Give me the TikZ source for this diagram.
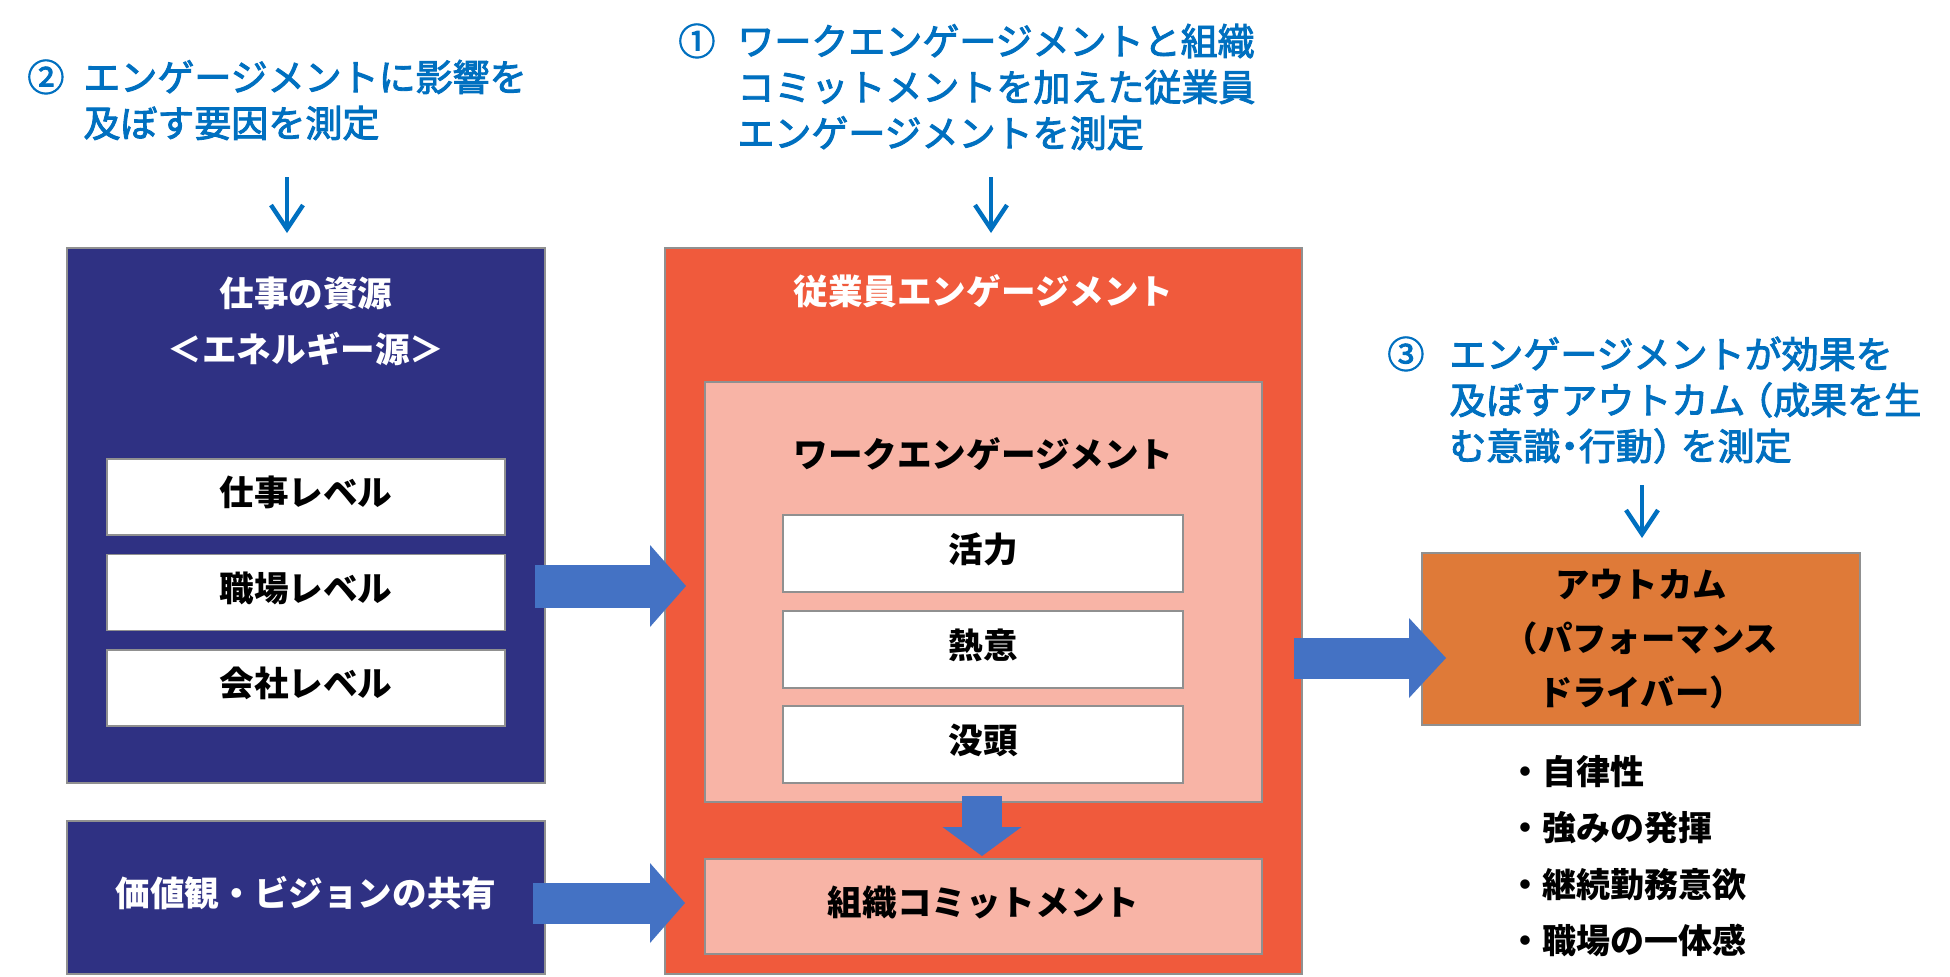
\documentclass[tikz,border=0pt]{standalone}
\usepackage{fontspec}
\setmainfont{Noto Sans CJK JP}
\newfontfamily\bluefont[FakeBold=2.5]{Noto Sans CJK JP}
\usetikzlibrary{arrows.meta}
\definecolor{navy}{HTML}{2F3183}
\definecolor{engorange}{HTML}{F05A3C}
\definecolor{salmon}{HTML}{F8B4A6}
\definecolor{outorange}{HTML}{DF7A38}
\definecolor{arrowblue}{HTML}{4472C4}
\definecolor{textblue}{HTML}{0070C0}
\definecolor{bordergray}{HTML}{909090}
\begin{document}
\begin{tikzpicture}[x=0.5pt,y=-0.5pt,
  box/.style={draw=bordergray, line width=0.7pt, inner sep=0pt, outer sep=0pt},
  lbl/.style={font=\fontsize{17.3pt}{28pt}\selectfont\bfseries, align=center, inner sep=0pt},
  boxlbl/.style={lbl, text height=0.94em, text depth=0.06em},
  bluetxt/.style={font=\bluefont\fontsize{18.5pt}{23pt}\selectfont, text=textblue, inner sep=0pt, anchor=base west},
  thinarrow/.style={draw=textblue, line width=2.2pt, -{Straight Barb[length=12pt,width=16pt]}},
  blockarrow/.style args={#1/#2/#3}{draw=arrowblue, line width=#1, -{Triangle[length=#2,width=#3,line width=0pt]}}]
\useasboundingbox (0,0) rectangle (1950,976);
\fill[white] (0,0) rectangle (1950,976);

% left column
\node[box, fill=navy, minimum width=239pt, minimum height=267.5pt] (res) at (306,515.5) {};
\node[lbl, text=white] (resT) at (306,321) {仕事の資源\\＜エネルギー源＞};
\node[box, fill=white, minimum width=199pt, minimum height=38pt, boxlbl] (lv1) at (306,497) {仕事レベル};
\node[box, fill=white, minimum width=199pt, minimum height=38pt, boxlbl] (lv2) at (306,592.5) {職場レベル};
\node[box, fill=white, minimum width=199pt, minimum height=38pt, boxlbl] (lv3) at (306,688) {会社レベル};
\node[box, fill=navy, minimum width=239pt, minimum height=76.5pt, boxlbl, text=white] (val) at (306,897.5) {価値観・ビジョンの共有};

% centre column
\node[box, fill=engorange, minimum width=318.5pt, minimum height=363pt] (emp) at (983.5,611) {};
\node[lbl, text=white] (empT) at (983.5,291) {従業員エンゲージメント};
\node[box, fill=salmon, minimum width=278.5pt, minimum height=210pt] (work) at (983.5,592) {};
\node[lbl] (workT) at (983.5,454) {ワークエンゲージメント};
\node[box, fill=white, minimum width=200pt, minimum height=38.5pt, boxlbl] (w1) at (983,553.5) {活力};
\node[box, fill=white, minimum width=200pt, minimum height=38.5pt, boxlbl] (w2) at (983,649.5) {熱意};
\node[box, fill=white, minimum width=200pt, minimum height=38.5pt, boxlbl] (w3) at (983,744.5) {没頭};
\node[box, fill=salmon, minimum width=278.5pt, minimum height=47.5pt, boxlbl] (org) at (983.5,906.5) {組織コミットメント};

% right column
\node[box, fill=outorange, minimum width=219pt, minimum height=86pt, lbl, font=\fontsize{17.2pt}{27pt}\selectfont\bfseries] (out) at (1641,639) {アウトカム\\（パフォーマンス\\ドライバー）};
\node[anchor=base west, inner sep=0pt, font=\fontsize{17pt}{28.3pt}\selectfont\bfseries] (bul) at (1508,784)
  {\begin{tabular}[t]{@{}l@{}}・自律性\\・強みの発揮\\・継続勤務意欲\\・職場の一体感\end{tabular}};

% blue captions
\node[bluetxt] (cap2) at (27,91) {\begin{tabular}[t]{@{}l@{}l@{}}\makebox[28pt][l]{②}&エンゲージメントに影響を\\&及ぼす要因を測定\end{tabular}};
\node[bluetxt] (cap1) at (678,55) {\begin{tabular}[t]{@{}l@{}l@{}}\makebox[29.5pt][l]{①}&ワークエンゲージメントと組織\\&コミットメントを加えた従業員\\&エンゲージメントを測定\end{tabular}};
\node[bluetxt] (cap3) at (1387,368) {\begin{tabular}[t]{@{}l@{}l@{}}\makebox[31pt][l]{③}&エンゲージメントが効果を\\&及ぼすアウトカム\makebox[0.75em][r]{（}成果を生\\&む意識\makebox[0.5em][c]{・}行動\makebox[0.75em][l]{）}を測定\end{tabular}};

% thin arrows
\coordinate (d2s) at (287,177); \coordinate (d2e) at (287,233);
\coordinate (d1s) at (991,177); \coordinate (d1e) at (991,233);
\coordinate (d3s) at (1642,485); \coordinate (d3e) at (1642,538);
\draw[thinarrow] (d2s) -- (d2e);
\draw[thinarrow] (d1s) -- (d1e);
\draw[thinarrow] (d3s) -- (d3e);

% block arrows
\coordinate (a1s) at (535,586); \coordinate (a1e) at (686,586);
\coordinate (a2s) at (533,903); \coordinate (a2e) at (685,903);
\coordinate (a3s) at (1294,658); \coordinate (a3e) at (1446,658);
\coordinate (a4s) at (982,796); \coordinate (a4e) at (982,856);
\draw[blockarrow={21.5pt/18pt/41pt}] (a1s) -- (a1e);
\draw[blockarrow={20.5pt/17.5pt/40pt}] (a2s) -- (a2e);
\draw[blockarrow={20.5pt/18.5pt/40pt}] (a3s) -- (a3e);
\draw[blockarrow={20pt/14.5pt/39.5pt}] (a4s) -- (a4e);
\end{tikzpicture}
\end{document}
